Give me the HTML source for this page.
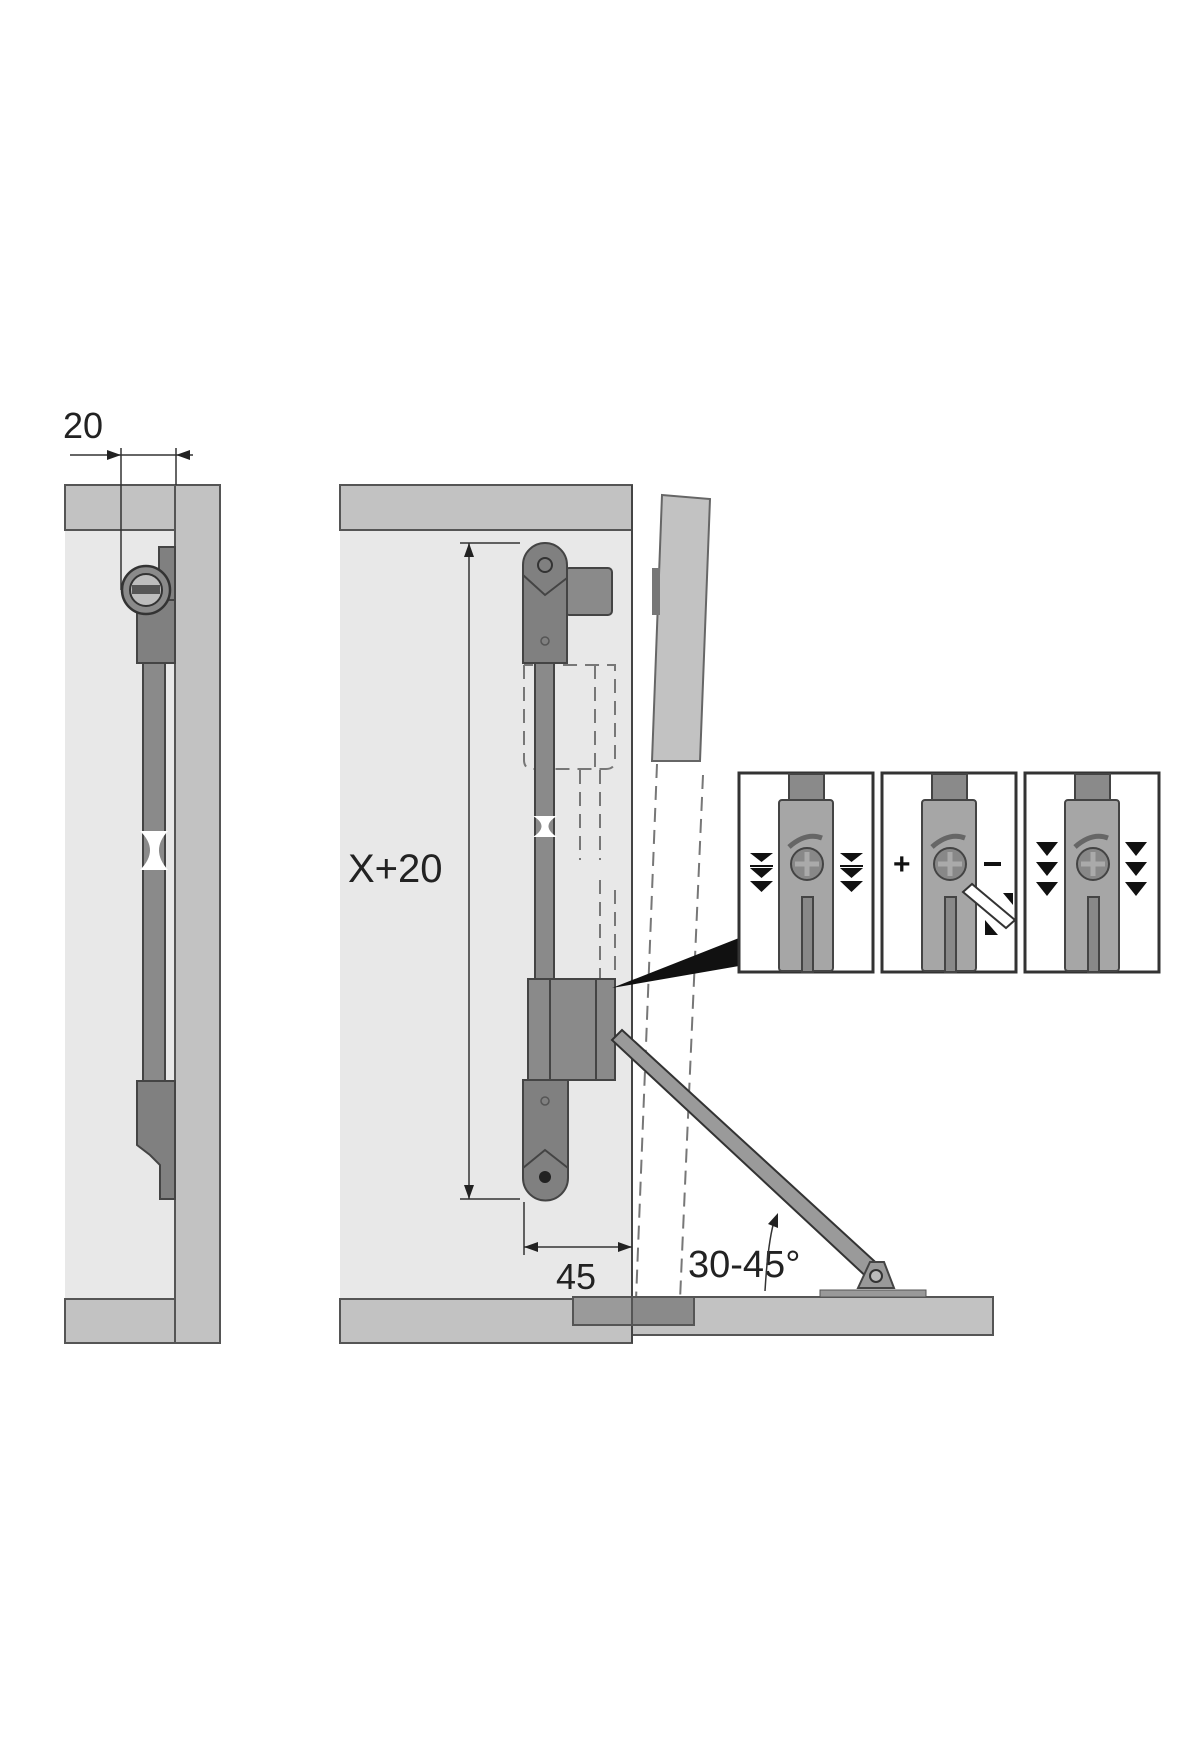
<!DOCTYPE html>
<html><head><meta charset="utf-8"><style>html,body{margin:0;padding:0;background:#fff}svg{display:block}</style></head>
<body>
<svg width="1200" height="1760" viewBox="0 0 1200 1760" xmlns="http://www.w3.org/2000/svg" font-family="Liberation Sans, sans-serif">
<rect width="1200" height="1760" fill="#fff"/>
<!-- LEFT PANEL -->
<rect x="65" y="530" width="110" height="770" fill="#e8e8e8"/>
<rect x="65" y="485" width="110" height="45" fill="#c2c2c2" stroke="#555" stroke-width="2"/>
<rect x="65" y="1299" width="110" height="44" fill="#c2c2c2" stroke="#555" stroke-width="2"/>
<rect x="175" y="485" width="45" height="858" fill="#c2c2c2" stroke="#555" stroke-width="2"/>
<text x="63" y="438" font-size="36" fill="#222">20</text>
<line x1="70" y1="455" x2="193" y2="455" stroke="#333" stroke-width="1.5"/>
<line x1="121" y1="448" x2="121" y2="590" stroke="#333" stroke-width="1.5"/>
<line x1="176" y1="448" x2="176" y2="485" stroke="#333" stroke-width="1.5"/>
<polygon points="121,455 107,450 107,460" fill="#222"/>
<polygon points="176,455 190,450 190,460" fill="#222"/>
<rect x="159" y="547" width="16" height="116" fill="#808080" stroke="#444" stroke-width="2"/>
<rect x="137" y="600" width="38" height="63" fill="#808080" stroke="#444" stroke-width="2"/>
<rect x="143" y="663" width="22" height="420" fill="#8a8a8a" stroke="#444" stroke-width="2"/>
<path d="M140 831 Q160 850 140 870 L168 870 Q150 850 168 831 Z" fill="#fff"/>
<circle cx="146" cy="590" r="24" fill="#8a8a8a" stroke="#333" stroke-width="2.5"/>
<circle cx="146" cy="590" r="16" fill="#bdbdbd" stroke="#333" stroke-width="2"/>
<rect x="132" y="585" width="28" height="9" fill="#555"/>
<path d="M137 1081 L175 1081 L175 1199 L160 1199 L160 1165 L150 1155 L137 1145 Z" fill="#808080" stroke="#444" stroke-width="2"/>
<!-- RIGHT CABINET -->
<rect x="340" y="530" width="292" height="770" fill="#e8e8e8"/>
<rect x="340" y="485" width="292" height="45" fill="#c2c2c2" stroke="#555" stroke-width="2"/>
<rect x="340" y="1299" width="292" height="44" fill="#c2c2c2" stroke="#555" stroke-width="2"/>
<rect x="632" y="1297" width="361" height="38" fill="#c2c2c2" stroke="#555" stroke-width="2"/>
<line x1="632" y1="485" x2="632" y2="1343" stroke="#444" stroke-width="2"/>
<!-- flap -->
<polygon points="662,495 710,499 700,761 652,761" fill="#c2c2c2" stroke="#666" stroke-width="2"/>
<rect x="652" y="568" width="8" height="47" fill="#777"/>
<g stroke="#777" stroke-width="2" stroke-dasharray="14,8" fill="none">
<line x1="657" y1="764" x2="636" y2="1300"/>
<line x1="703" y1="775" x2="680" y2="1300"/>
<path d="M524 665 L524 760 Q524 769 533 769 L606 769 Q615 769 615 760 L615 665 L524 665"/>
<line x1="595" y1="665" x2="595" y2="769"/>
<line x1="580" y1="770" x2="580" y2="860"/>
<line x1="600" y1="770" x2="600" y2="860"/>
<line x1="600" y1="880" x2="600" y2="1000"/>
<line x1="615" y1="890" x2="615" y2="1000"/>
</g>
<!-- dimension X+20 -->
<line x1="469" y1="543" x2="469" y2="1199" stroke="#333" stroke-width="1.5"/>
<line x1="460" y1="543" x2="520" y2="543" stroke="#333" stroke-width="1.5"/>
<line x1="460" y1="1199" x2="520" y2="1199" stroke="#333" stroke-width="1.5"/>
<polygon points="469,543 464,557 474,557" fill="#222"/>
<polygon points="469,1199 464,1185 474,1185" fill="#222"/>
<text x="348" y="882" font-size="40" fill="#222">X+20</text>
<!-- 45 -->
<line x1="524" y1="1202" x2="524" y2="1255" stroke="#333" stroke-width="1.5"/>
<line x1="524" y1="1247" x2="632" y2="1247" stroke="#333" stroke-width="1.5"/>
<polygon points="524,1247 538,1242 538,1252" fill="#222"/>
<polygon points="632,1247 618,1242 618,1252" fill="#222"/>
<text x="556" y="1289" font-size="36" fill="#222">45</text>
<!-- mechanism -->
<rect x="535" y="663" width="19" height="318" fill="#8a8a8a" stroke="#444" stroke-width="2"/>
<path d="M533 816 Q550 826 533 837 L557 837 Q540 826 557 816 Z" fill="#fff"/>
<rect x="565" y="568" width="47" height="47" rx="4" fill="#8a8a8a" stroke="#444" stroke-width="2"/>
<path d="M523 565 A22 22 0 0 1 567 565 L567 663 L523 663 Z" fill="#808080" stroke="#444" stroke-width="2"/>
<path d="M523 575 L545 595 L567 578" fill="none" stroke="#444" stroke-width="2"/>
<circle cx="545" cy="565" r="7" fill="none" stroke="#333" stroke-width="2"/>
<circle cx="545" cy="641" r="4" fill="none" stroke="#555" stroke-width="1.5"/>
<rect x="528" y="979" width="87" height="101" fill="#8a8a8a" stroke="#444" stroke-width="2"/>
<line x1="550" y1="979" x2="550" y2="1080" stroke="#444" stroke-width="2"/>
<line x1="596" y1="979" x2="596" y2="1080" stroke="#444" stroke-width="2"/>
<path d="M523 1080 L568 1080 L568 1178 A22 22 0 0 1 523 1178 Z" fill="#808080" stroke="#444" stroke-width="2"/>
<path d="M523 1168 L545 1150 L568 1168" fill="none" stroke="#444" stroke-width="2"/>
<circle cx="545" cy="1177" r="6" fill="#222"/>
<circle cx="545" cy="1101" r="4" fill="none" stroke="#555" stroke-width="1.5"/>
<!-- stay arm -->
<polygon points="612,1040 622,1030 884,1270 872,1282" fill="#9a9a9a" stroke="#333" stroke-width="2"/>
<polygon points="858,1288 870,1262 884,1262 894,1288" fill="#999" stroke="#444" stroke-width="2"/>
<circle cx="876" cy="1276" r="6" fill="#bbb" stroke="#333" stroke-width="2"/>
<rect x="820" y="1290" width="106" height="7" fill="#999" stroke="#555" stroke-width="1"/>
<!-- small blocks -->
<rect x="573" y="1297" width="59" height="28" fill="#9a9a9a" stroke="#555" stroke-width="2"/>
<rect x="632" y="1297" width="62" height="28" fill="#8a8a8a" stroke="#555" stroke-width="2"/>
<!-- angle -->
<text x="688" y="1277" font-size="38" fill="#222">30-45°</text>
<path d="M775 1218 Q768 1240 765 1291" fill="none" stroke="#333" stroke-width="1.5"/>
<polygon points="778,1213 768,1224 778,1228" fill="#222"/>
<!-- wedge -->
<polygon points="612,988 739,938 739,966" fill="#111"/>
<!-- detail boxes -->
<g id="b">
<rect x="739" y="773" width="134" height="199" fill="#fff" stroke="#333" stroke-width="3"/>
<rect x="789" y="774" width="35" height="28" fill="#8a8a8a" stroke="#444" stroke-width="2"/>
<rect x="779" y="800" width="54" height="171" rx="3" fill="#a6a6a6" stroke="#444" stroke-width="2"/>
<path d="M789 847 Q806 832 822 838" fill="none" stroke="#666" stroke-width="5"/>
<circle cx="807" cy="864" r="16" fill="#888" stroke="#444" stroke-width="2"/>
<path d="M807 852 V876 M795 864 H819" stroke="#aaa" stroke-width="5"/>
<rect x="802" y="897" width="11" height="75" fill="#888" stroke="#444" stroke-width="2"/>
</g>
<polygon points="750,853 773,853 761.5,862" fill="#111"/><line x1="750" y1="866" x2="773" y2="866" stroke="#111" stroke-width="2"/>
<polygon points="750,868 773,868 761.5,878" fill="#111"/><polygon points="750,881 773,881 761.5,892" fill="#111"/>
<polygon points="840,853 863,853 851.5,862" fill="#111"/><line x1="840" y1="866" x2="863" y2="866" stroke="#111" stroke-width="2"/>
<polygon points="840,868 863,868 851.5,878" fill="#111"/><polygon points="840,881 863,881 851.5,892" fill="#111"/>
<use href="#b" x="143"/>
<text x="893" y="874" font-size="30" font-weight="bold" fill="#111">+</text>
<rect x="984" y="862" width="17" height="4" fill="#111"/>
<polygon points="963,892 972,884 1015,920 1006,928" fill="#fff" stroke="#333" stroke-width="2"/>
<polygon points="1003,893 1013,893 1013,905" fill="#111"/>
<polygon points="985,920 998,935 985,935" fill="#111"/>
<use href="#b" x="286"/>
<polygon points="1036,842 1058,842 1047,856" fill="#111"/><polygon points="1036,862 1058,862 1047,876" fill="#111"/><polygon points="1036,882 1058,882 1047,896" fill="#111"/>
<polygon points="1125,842 1147,842 1136,856" fill="#111"/><polygon points="1125,862 1147,862 1136,876" fill="#111"/><polygon points="1125,882 1147,882 1136,896" fill="#111"/>
</svg>
</body></html>
